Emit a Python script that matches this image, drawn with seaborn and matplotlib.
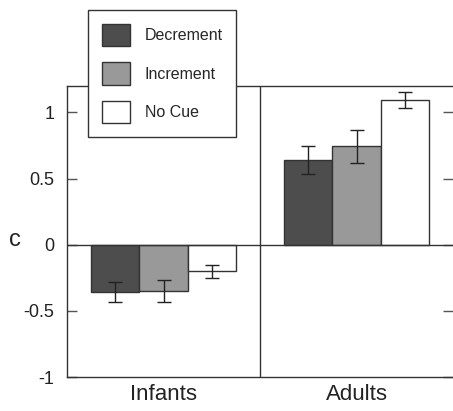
import matplotlib
matplotlib.use("Agg")
import matplotlib.pyplot as plt
import seaborn as sns
import pandas as pd
import numpy as np

groups = ["Infants", "Adults"]
conditions = ["Decrement", "Increment", "No Cue"]
infant_means = [-0.36, -0.35, -0.20]
adult_means = [0.64, 0.745, 1.095]
infant_err = [0.075, 0.08, 0.048]
adult_err = [0.105, 0.125, 0.06]
yticks = [-1, -0.5, 0, 0.5, 1]
ytick_labels = ["-1", "-0.5", "0", "0.5", "1"]

colors = ["#4d4d4d", "#999999", "#ffffff"]

sns.set_theme(style="white")
plt.rcParams["font.family"] = ["Liberation Sans", "DejaVu Sans"]

rows = []
for g, means in zip(groups, [infant_means, adult_means]):
    for c, m in zip(conditions, means):
        rows.append({"group": g, "cond": c, "c": m})
df = pd.DataFrame(rows)
errs = {"Infants": infant_err, "Adults": adult_err}

fig = plt.figure(figsize=(4.53, 4.11), dpi=100)
ax = fig.add_axes([0.148, 0.0827, 0.852, 0.7081])

sns.barplot(data=df, x="group", y="c", hue="cond", order=groups,
            hue_order=conditions, palette=colors, width=0.75, gap=0,
            errorbar=None, edgecolor="#333333", linewidth=1.0, ax=ax,
            legend=True)

bar_containers = list(ax.containers)
for i, cont in enumerate(bar_containers):
    for j, bar in enumerate(cont.patches):
        xc = bar.get_x() + bar.get_width() / 2
        val = df[(df.group == groups[j]) & (df.cond == conditions[i])]["c"].iloc[0]
        ax.errorbar(xc, val, yerr=errs[groups[j]][i], fmt="none",
                    ecolor="#222222", elinewidth=1.0, capsize=5, capthick=1.0,
                    zorder=5)

ax.axhline(0, color="#333333", lw=1.0, zorder=4)
ax.axvline(0.5, color="#333333", lw=1.0, zorder=4)

ax.set_xlim(-0.5, 1.5)
ax.set_ylim(-1, 1.2)
ax.set_yticks(yticks)
ax.set_yticklabels(ytick_labels)
ax.set_xlabel("")
ax.set_ylabel("c", rotation=0, fontsize=17, va="center", color="#222222")
ax.yaxis.set_label_coords(-0.135, 0.472)

ax.tick_params(axis="y", direction="in", length=7, width=1, color="#555555",
               left=True, right=True, labelsize=13, pad=9,
               labelcolor="#222222")
ax.tick_params(axis="x", length=0, labelsize=16, pad=5, labelcolor="#222222")

for s in ["left", "top", "bottom"]:
    ax.spines[s].set_visible(True)
    ax.spines[s].set_color("#333333")
    ax.spines[s].set_linewidth(1.0)
ax.spines["right"].set_visible(False)

leg = ax.legend(loc="upper left", bbox_to_anchor=(88 / 453, 1 - 10 / 411),
                bbox_transform=fig.transFigure, frameon=True, fancybox=False,
                edgecolor="#333333", framealpha=1, fontsize=11.5,
                handlelength=1.8, handleheight=1.8, handletextpad=0.9,
                labelspacing=1.0, borderpad=0.85, borderaxespad=0)
leg.get_frame().set_linewidth(1.0)
leg.set_zorder(10)
for h in leg.legend_handles:
    h.set_edgecolor("#333333")

fig.savefig("out.png", dpi=100)
